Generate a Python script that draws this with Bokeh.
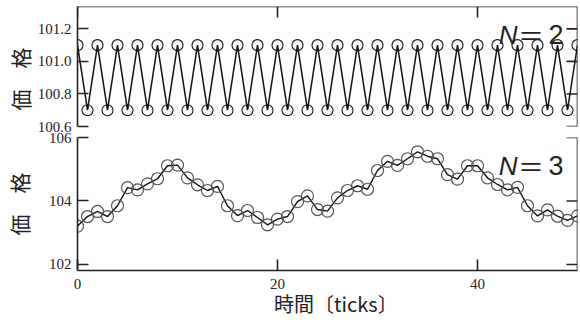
import math
from bokeh.plotting import figure
from bokeh.layouts import column
from bokeh.models import LinearAxis, FixedTicker, Label, Range1d, PrintfTickFormatter, Span
from bokeh.embed import file_html
from bokeh.resources import INLINE

# ---- data ----
ticks = list(range(51))
price_n2 = [101.1, 100.7, 101.1, 100.7, 101.1, 100.7, 101.1, 100.7, 101.1, 100.7,
            101.1, 100.7, 101.1, 100.7, 101.1, 100.7, 101.1, 100.7, 101.1, 100.7,
            101.1, 100.7, 101.1, 100.7, 101.1, 100.7, 101.1, 100.7, 101.1, 100.7,
            101.1, 100.7, 101.1, 100.7, 101.1, 100.7, 101.1, 100.7, 101.1, 100.7,
            101.1, 100.7, 101.1, 100.7, 101.1, 100.7, 101.1, 100.7, 101.1, 100.7,
            101.1]
price_n3 = [103.21, 103.51, 103.67, 103.51, 103.85, 104.42, 104.35, 104.54, 104.70, 105.11,
            105.13, 104.73, 104.51, 104.33, 104.46, 103.85, 103.54, 103.70, 103.48, 103.25,
            103.43, 103.51, 103.98, 104.16, 103.73, 103.68, 104.10, 104.33, 104.48, 104.37,
            104.96, 105.25, 105.12, 105.33, 105.55, 105.41, 105.33, 104.83, 104.69, 105.11,
            105.11, 104.73, 104.52, 104.35, 104.43, 103.85, 103.53, 103.72, 103.52, 103.39,
            103.53]
x_ticks = [0, 20, 40]
y_ticks_top = [100.6, 100.8, 101.0, 101.2]
y_ticks_bottom = [102, 104, 106]
x_label = "時間〔ticks〕"
y_label = "価\u3000格"
panel_labels = ["2", "3"]

AX = "#222222"
LW = 1.6
TICK_FONT = "Liberation Sans Narrow"
CJK = "Noto Sans CJK JP"
TICK_LEN = 11


def label_axis(ticks_, fmt, standoff, lab, lab_standoff, lab_size):
    ax = LinearAxis(ticker=FixedTicker(ticks=ticks_), formatter=fmt)
    ax.major_tick_in = TICK_LEN
    ax.major_tick_out = 0
    ax.minor_tick_in = 0
    ax.minor_tick_out = 0
    ax.axis_line_width = LW
    ax.major_tick_line_width = LW
    ax.axis_line_color = AX
    ax.major_tick_line_color = AX
    ax.major_label_text_font = TICK_FONT
    ax.major_label_text_font_size = "15px"
    ax.major_label_text_color = AX
    ax.major_label_standoff = standoff
    ax.axis_label = lab
    ax.axis_label_standoff = lab_standoff
    ax.axis_label_text_font = CJK
    ax.axis_label_text_font_size = lab_size
    ax.axis_label_text_font_style = "normal"
    ax.axis_label_text_color = AX
    return ax


def base_fig(h, yr, mbt, mbb):
    p = figure(width=580, height=h, x_range=Range1d(0, 50), y_range=yr,
               output_backend="svg", toolbar_location=None,
               x_axis_location=None, y_axis_location=None,
               min_border_left=77, min_border_right=3,
               min_border_top=mbt, min_border_bottom=mbb)
    p.outline_line_color = None
    p.xgrid.visible = False
    p.ygrid.visible = False
    p.background_fill_color = "white"
    p.border_fill_color = "white"
    return p


def right_side(p, yr, yt):
    p.add_layout(Span(location=p.x_range.end, dimension="height",
                      line_color=AX, line_width=LW))
    p.ray(x=[p.x_range.end] * len(yt), y=yt, length=TICK_LEN, angle=math.pi,
          length_units="screen", line_color=AX, line_width=LW)


def n_label(p, yr, n_text, dy):
    p.add_layout(Label(x=50, y=yr.end, x_offset=-60, y_offset=dy, text="N",
                       text_align="right", text_baseline="alphabetic",
                       text_font="Liberation Sans", text_font_style="italic",
                       text_font_size="26px", text_color=AX))
    p.add_layout(Label(x=50, y=yr.end, x_offset=-46.5, y_offset=dy, text="＝",
                       text_align="center", text_baseline="alphabetic",
                       text_font=CJK, text_font_size="26px", text_color=AX))
    p.add_layout(Label(x=50, y=yr.end, x_offset=-14, y_offset=dy, text=n_text,
                       text_align="right", text_baseline="alphabetic",
                       text_font="Liberation Sans",
                       text_font_size="27px", text_color=AX))


# ---- top panel (N=2) ----
yr1 = Range1d(100.6, 101.3375)
p1 = base_fig(132, yr1, 6, 6)
p1.add_layout(label_axis(y_ticks_top, PrintfTickFormatter(format="%.1f"), 6,
                         y_label + "\u3000\u2009", 0, "21px"), "left")
right_side(p1, yr1, y_ticks_top)
p1.add_layout(Span(location=yr1.end, dimension="width", line_color=AX, line_width=LW))
p1.ray(x=x_ticks, y=[yr1.end] * len(x_ticks), length=TICK_LEN, angle=-math.pi / 2,
       length_units="screen", line_color=AX, line_width=LW)
p1.line(ticks, price_n2, line_color="#111111", line_width=1.5)
p1.scatter(ticks, price_n2, marker="circle", size=11, fill_alpha=0,
           line_color="#111111", line_width=1.1)
n_label(p1, yr1, panel_labels[0], -28)

# ---- bottom panel (N=3) ----
yr2 = Range1d(101.81, 106)
p2 = base_fig(190, yr2, 5, 52)
p2.add_layout(label_axis(y_ticks_bottom, PrintfTickFormatter(format="%d"), 6,
                         y_label, 12, "21px"), "left")
right_side(p2, yr2, y_ticks_bottom)
p2.add_layout(label_axis(x_ticks, PrintfTickFormatter(format="%d"), 8,
                         "\u2002\u2004" + x_label, -3, "20px"), "below")
p2.line(ticks, price_n3, line_color="#111111", line_width=1.4)
p2.scatter(ticks, price_n3, marker="circle", size=12, fill_alpha=0,
           line_color="#555555", line_width=1.2)
n_label(p2, yr2, panel_labels[1], -28)

layout = column(p1, p2, spacing=0)
open("out.html", "w").write(file_html(layout, INLINE))
